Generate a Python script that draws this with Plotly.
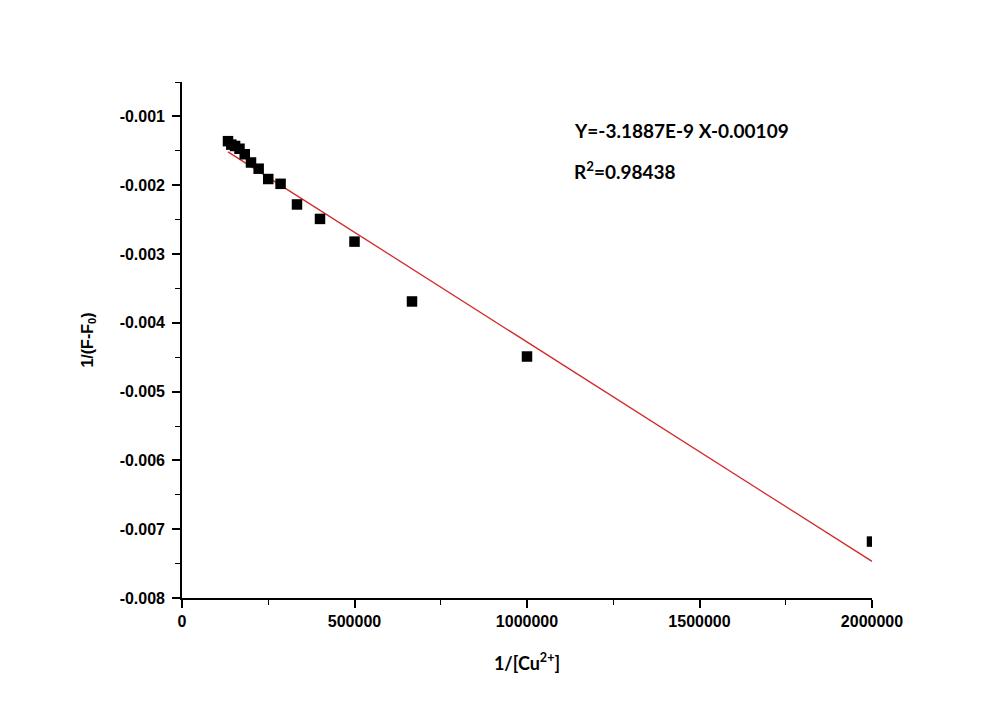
import numpy as np
import plotly.graph_objects as go

# Data
x_values = [133333, 142857, 153846, 166667, 181818, 200000, 222222, 250000,
            285714, 333333, 400000, 500000, 666667, 1000000, 2000000]
y_values = [-0.00136, -0.00141, -0.00143, -0.00147, -0.00155, -0.00167, -0.00176, -0.00191,
            -0.00198, -0.00228, -0.00249, -0.00282, -0.00369, -0.00449, -0.00718]

fit_slope = -3.1887e-9
fit_intercept = -0.00109
fit_text = "Y=-3.1887E-9 X-0.00109"
r2_text = "R<sup>2</sup>=0.98438"

x_ticks = [0, 500000, 1000000, 1500000, 2000000]
y_ticks = [-0.001, -0.002, -0.003, -0.004, -0.005, -0.006, -0.007, -0.008]

fit_x = np.array([min(x_values), max(x_values)], dtype=float)
fit_y = fit_slope * fit_x + fit_intercept

fig = go.Figure()
fig.add_trace(go.Scatter(
    x=fit_x, y=fit_y, mode="lines",
    line=dict(color="#d42a2a", width=1.3),
    showlegend=False, hoverinfo="skip"))
fig.add_trace(go.Scatter(
    x=x_values, y=y_values, mode="markers",
    marker=dict(symbol="square", size=10.5, color="black", line=dict(width=0)),
    showlegend=False))

tick_font = dict(family="Liberation Sans, Arial", size=16, color="black", weight="bold")

# page body has an 8px margin, so the figure is drawn from (8, 8)
fig.update_layout(
    width=993, height=700,
    margin=dict(l=174, r=129, t=74, b=110),
    paper_bgcolor="white", plot_bgcolor="white",
    xaxis=dict(
        range=[0, 2000000], tickmode="array", tickvals=x_ticks,
        ticktext=[str(v) for v in x_ticks],
        tickfont=tick_font,
        showgrid=False, zeroline=False,
        showline=True, linecolor="black", linewidth=1.6,
        ticks="outside", ticklen=8, tickwidth=1.6, tickcolor="black",
        minor=dict(ticks="outside", ticklen=5, tickwidth=1.3, tickcolor="black", dtick=250000),
        title=dict(text="1/[Cu<sup>2+</sup>]",
                   font=dict(family="Lato, Carlito, Calibri", size=18, color="black", weight="bold"),
                   standoff=28),
    ),
    yaxis=dict(
        range=[-0.008, -0.0005], tickmode="array", tickvals=y_ticks,
        ticktext=[f"{v:.3f}" for v in y_ticks],
        tickfont=tick_font,
        ticklabelstandoff=4,
        showgrid=False, zeroline=False,
        showline=True, linecolor="black", linewidth=1.6,
        ticks="outside", ticklen=8, tickwidth=1.6, tickcolor="black",
        minor=dict(ticks="outside", ticklen=5, tickwidth=1.3, tickcolor="black", dtick=0.0005),
        title=dict(text="1/(F-F<sub>0</sub>)",
                   font=dict(family="Liberation Sans, Arial", size=16, color="black", weight="bold"),
                   standoff=22),
    ),
)

# annotation positions (page pixels) converted to paper coords
pl, pr, pt, pb = 182, 872, 82, 598
def to_paper(px, py):
    return (px - pl) / (pr - pl), (pb - py) / (pb - pt)

anns = []
for text, (px, py) in [(fit_text, (572, 131)), (r2_text, (572, 170))]:
    ax, ay = to_paper(px, py)
    anns.append(dict(x=ax, y=ay, xref="paper", yref="paper", text=text,
                     showarrow=False, xanchor="left", yanchor="middle",
                     font=dict(family="Lato, Carlito, Calibri", size=19, color="black", weight="bold")))
fig.update_layout(annotations=anns)

fig.write_html("out.html")
